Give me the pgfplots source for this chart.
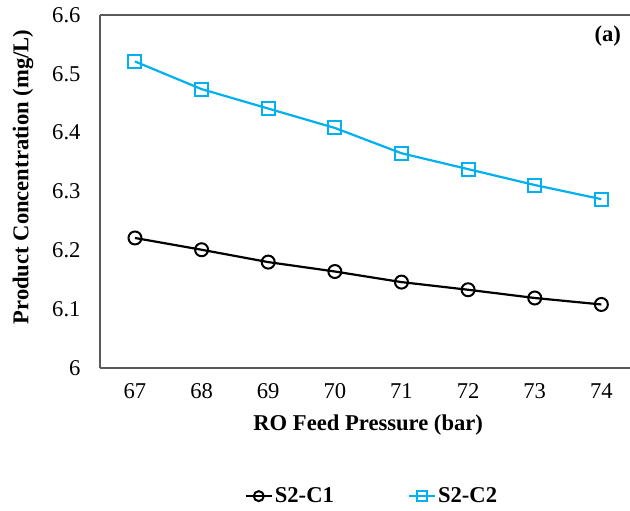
\documentclass[border=0pt]{standalone}
\usepackage{pgfplots}
\pgfplotsset{compat=1.18}
\usepackage{fontspec}
\setmainfont{Liberation Serif}
\definecolor{cblue}{HTML}{00B0F0}
\definecolor{axgray}{HTML}{595959}
\begin{document}
\begin{tikzpicture}
\begin{axis}[
  name=ax, at={(0,0)}, anchor=south west,
  scale only axis, width=530pt, height=353pt,
  xmin=66.475, xmax=74.43, ymin=6, ymax=6.6,
  separate axis lines,
  axis x line=box, axis y line=left,
  axis line style={axgray, line width=1.2pt, -},
  xtick={67,68,69,70,71,72,73,74},
  ytick={6,6.1,6.2,6.3,6.4,6.5,6.6},
  major tick length=0pt,
  /pgf/number format/assume math mode=true,
  /pgf/number format/fixed,
  /pgf/number format/precision=1,
  xticklabel style={/pgf/number format/precision=0, yshift=-12pt},
  yticklabel style={xshift=-16pt},
  tick label style={font=\fontsize{22.6}{25}\selectfont, text=black},
  xlabel={RO Feed Pressure (bar)},
  ylabel={Product Concentration (mg/L)},
  label style={font=\bfseries\fontsize{22.6}{25}\selectfont},
  xlabel style={at={(axis description cs:0.506,-0.161)}, anchor=center},
  ylabel style={at={(axis description cs:-0.145,0.541)}, anchor=center, rotate=0},
  legend columns=2,
  legend style={draw=none, fill=none, at={(axis description cs:0.513,-0.363)}, anchor=center,
    font=\bfseries\fontsize{22.6}{25}\selectfont,
    /tikz/every even column/.append style={column sep=72pt},
    inner sep=0pt},
  legend image code/.code={\draw[mark repeat=2,mark phase=2, mark size=5pt] plot coordinates {(0pt,0pt)(13pt,0pt)(26pt,0pt)};},
  clip=false,
]
\addplot[black, line width=2.2pt, mark=o, mark size=6.5pt, mark options={line width=2pt, fill=white}]
  coordinates {(67,6.221)(68,6.201)(69,6.180)(70,6.164)(71,6.146)(72,6.133)(73,6.119)(74,6.108)};
\addlegendentry{S2-C1}
\addplot[cblue, line width=2.2pt, mark=square, mark size=6.5pt, mark options={line width=2pt, fill=white}]
  coordinates {(67,6.521)(68,6.474)(69,6.441)(70,6.408)(71,6.365)(72,6.338)(73,6.311)(74,6.287)};
\addlegendentry{S2-C2}
\node[font=\bfseries\fontsize{22.6}{25}\selectfont] at (axis description cs:0.958,0.940) {(a)};
\end{axis}
\pgfresetboundingbox
\path[use as bounding box] ([xshift=-100pt,yshift=-142pt]ax.south west) rectangle ([yshift=15pt]ax.north east);
\end{tikzpicture}
\end{document}
